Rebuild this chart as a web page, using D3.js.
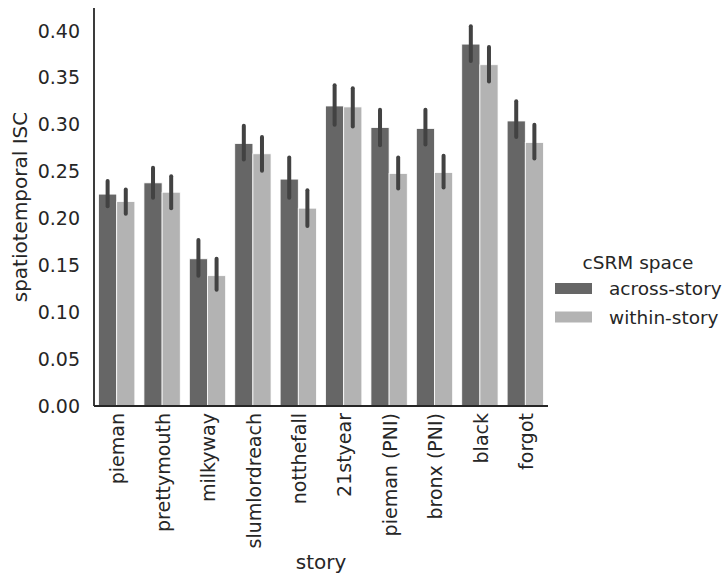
<!DOCTYPE html>
<html>
<head>
<meta charset="utf-8">
<script src="https://cdn.jsdelivr.net/npm/d3@7"></script>
<style>
  body { margin: 0; background: #fff; }
  svg { display: block; }
  text { font-family: "DejaVu Sans", sans-serif; fill: #262626; }
</style>
</head>
<body>
<svg id="chart" width="724" height="576"></svg>
<script>
// Stories on the x axis
const stories = ["pieman", "prettymouth", "milkyway", "slumlordreach", "notthefall",
                 "21styear", "pieman (PNI)", "bronx (PNI)", "black", "forgot"];
// cSRM space (hue)
const spaces = ["across-story", "within-story"];

// Mean spatiotemporal ISC per story
const acrossMean = [0.226, 0.238, 0.157, 0.280, 0.242, 0.320, 0.297, 0.296, 0.386, 0.304];
const withinMean = [0.218, 0.228, 0.139, 0.269, 0.211, 0.319, 0.248, 0.249, 0.364, 0.281];
// Confidence interval bounds
const acrossLow  = [0.213, 0.222, 0.139, 0.263, 0.222, 0.300, 0.278, 0.279, 0.368, 0.287];
const acrossHigh = [0.240, 0.254, 0.177, 0.299, 0.265, 0.342, 0.316, 0.316, 0.405, 0.325];
const withinLow  = [0.205, 0.211, 0.124, 0.251, 0.192, 0.298, 0.232, 0.233, 0.346, 0.264];
const withinHigh = [0.231, 0.245, 0.157, 0.287, 0.230, 0.339, 0.265, 0.267, 0.383, 0.300];

const yTicks = [0.00, 0.05, 0.10, 0.15, 0.20, 0.25, 0.30, 0.35, 0.40];

const colors = { "across-story": "#666666", "within-story": "#b3b3b3" };

const rows = [];
stories.forEach((s, i) => {
  rows.push({ story: s, space: "across-story", mean: acrossMean[i], lo: acrossLow[i], hi: acrossHigh[i] });
  rows.push({ story: s, space: "within-story", mean: withinMean[i], lo: withinLow[i], hi: withinHigh[i] });
});

const svg = d3.select("#chart");
const plotLeft = 94, plotRight = 548, plotTop = 8, plotBottom = 406;

const x = d3.scaleBand().domain(stories).range([plotLeft, plotRight]).padding(0);
const bw = x.bandwidth();
const xh = d3.scaleBand().domain(spaces).range([bw * 0.1, bw * 0.9]).padding(0);
const y = d3.scaleLinear().domain([0, 0.4245]).range([plotBottom, plotTop]);

// Bars
svg.append("g").selectAll("rect").data(rows).join("rect")
  .attr("x", d => x(d.story) + xh(d.space))
  .attr("width", xh.bandwidth())
  .attr("y", d => y(d.mean))
  .attr("height", d => y(0) - y(d.mean))
  .attr("fill", d => colors[d.space])
  .attr("stroke", "#ffffff")
  .attr("stroke-width", 0.8);

// Error bars
svg.append("g").selectAll("line").data(rows).join("line")
  .attr("x1", d => x(d.story) + xh(d.space) + xh.bandwidth() / 2)
  .attr("x2", d => x(d.story) + xh(d.space) + xh.bandwidth() / 2)
  .attr("y1", d => y(d.lo))
  .attr("y2", d => y(d.hi))
  .attr("stroke", "#424242")
  .attr("stroke-width", 4)
  .attr("stroke-linecap", "round");

// Y axis
const yAxis = svg.append("g").attr("transform", `translate(${plotLeft},0)`)
  .call(d3.axisLeft(y).tickValues(yTicks).tickFormat(d3.format(".2f")).tickSize(0).tickPadding(14));
yAxis.select(".domain").remove();
yAxis.selectAll("text").attr("font-size", 19).attr("fill", "#262626")
  .style("font-family", "DejaVu Sans, sans-serif");

// X axis
const xAxis = svg.append("g").attr("transform", `translate(0,${plotBottom})`)
  .call(d3.axisBottom(x).tickSize(0).tickPadding(0));
xAxis.select(".domain").remove();
xAxis.selectAll("text")
  .attr("font-size", 19).attr("fill", "#262626")
  .style("font-family", "DejaVu Sans, sans-serif")
  .attr("transform", "rotate(-90)")
  .attr("x", -7).attr("y", 1).attr("dy", "0.35em")
  .attr("text-anchor", "end");

// Spines
svg.append("line").attr("x1", plotLeft).attr("x2", plotLeft).attr("y1", plotTop).attr("y2", plotBottom)
  .attr("stroke", "#262626").attr("stroke-width", 1.8);
svg.append("line").attr("x1", plotLeft).attr("x2", plotRight).attr("y1", plotBottom).attr("y2", plotBottom)
  .attr("stroke", "#262626").attr("stroke-width", 1.8);

// Axis titles
svg.append("text").attr("x", (plotLeft + plotRight) / 2).attr("y", 569)
  .attr("text-anchor", "middle").attr("font-size", 20).text("story");
svg.append("text").attr("transform", `translate(27,${(plotTop + plotBottom) / 2}) rotate(-90)`)
  .attr("text-anchor", "middle").attr("font-size", 20).text("spatiotemporal ISC");

// Legend
const lg = svg.append("g");
lg.append("text").attr("x", 638).attr("y", 269).attr("text-anchor", "middle")
  .attr("font-size", 18.5).text("cSRM space");
spaces.forEach((s, i) => {
  const yy = 283 + i * 28.5;
  lg.append("rect").attr("x", 555).attr("y", yy).attr("width", 37).attr("height", 11)
    .attr("fill", colors[s]);
  lg.append("text").attr("x", 609).attr("y", yy + 12).attr("font-size", 18.5).text(s);
});
</script>
</body>
</html>
